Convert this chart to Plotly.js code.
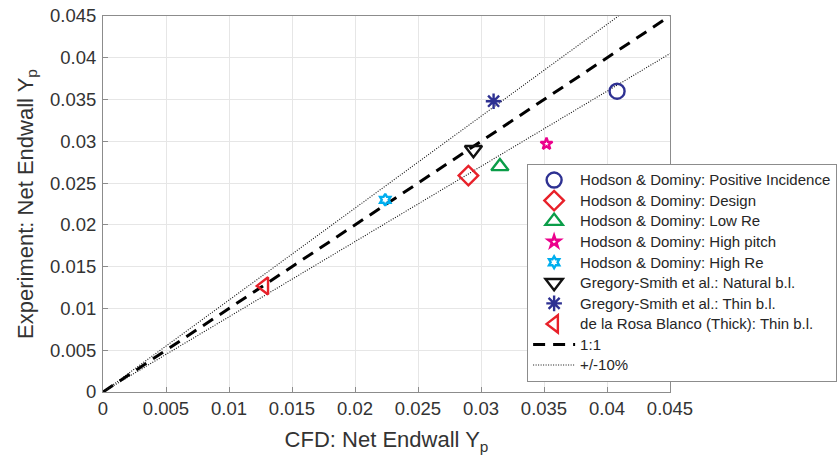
<!DOCTYPE html>
<html><head><meta charset="utf-8">
<script src="https://cdn.plot.ly/plotly-3.0.1.min.js"></script>
<style>html,body{margin:0;padding:0;background:#fff}#chart{width:837px;height:463px}</style>
</head><body><div id="chart"></div>
<script>
const seriesNames = [
  "Hodson & Dominy: Positive Incidence",
  "Hodson & Dominy: Design",
  "Hodson & Dominy: Low Re",
  "Hodson & Dominy: High pitch",
  "Hodson & Dominy: High Re",
  "Gregory-Smith et al.: Natural b.l.",
  "Gregory-Smith et al.: Thin b.l.",
  "de la Rosa Blanco (Thick): Thin b.l."
];
const cfdValues = [0.0408, 0.0290, 0.0315, 0.0352, 0.0224, 0.0294, 0.0310, 0.0128];
const expValues = [0.0360, 0.0259, 0.0270, 0.0297, 0.0230, 0.0290, 0.0348, 0.0127];
const symbols = ["circle-open","diamond-open","triangle-up-open","star-open","hexagram-open","triangle-down-open","asterisk-open","triangle-left-open"];
const colors = ["#2e3192","#e8212a","#0a9d48","#ec008c","#00aeef","#111111","#2e3192","#e8212a"];
const sizes = [15, 15, 15, 9, 9, 15, 13, 15];
const lineNames = ["1:1", "+/-10%"];

const lineX = [0, 0.045];
const upperFactor = 1.1, lowerFactor = 0.9;
const tickVals = [0,0.005,0.01,0.015,0.02,0.025,0.03,0.035,0.04,0.045];
const tickText = ["0","0.005","0.01","0.015","0.02","0.025","0.03","0.035","0.04","0.045"];

const label = s => '<span style="font-size:15px">' + s.replace(/&/g, '&amp;') + '</span>';

const traces = [];
traces.push({
  x: lineX, y: lineX.map(v => v), mode: 'lines', name: label(lineNames[0]), legendrank: 9,
  line: {color: '#000', width: 3, dash: '12px,8px'}
});
const upX = [0, 0.045 / upperFactor];
const loX = [0, 0.045];
traces.push({
  x: upX.concat([null]).concat(loX),
  y: upX.map(v => v * upperFactor).concat([null]).concat(loX.map(v => v * lowerFactor)),
  mode: 'lines', name: label(lineNames[1]), legendrank: 10,
  line: {color: '#111', width: 1.1, dash: '1px,1.5px'}
});
seriesNames.forEach((n, i) => {
  traces.push({
    x: [cfdValues[i]], y: [expValues[i]], mode: 'markers', name: label(n), legendrank: i + 1,
    marker: {symbol: symbols[i], color: colors[i], size: sizes[i], line: {color: colors[i], width: 2.4}}
  });
});

const FONT = 'Liberation Sans, Arial, sans-serif';
const axisCommon = {
  range: [0, 0.045], tickvals: tickVals, ticktext: tickText,
  showgrid: true, gridcolor: '#e6e6e6', gridwidth: 1,
  showline: true, linecolor: '#8c8c8c', linewidth: 1, mirror: true,
  ticks: 'inside', ticklen: 5, tickcolor: '#8c8c8c',
  zeroline: false,
  tickfont: {family: FONT, size: 18.5, color: '#333'}
};
const layout = {
  width: 837, height: 463,
  margin: {l: 103, r: 167, t: 16, b: 71, autoexpand: false},
  paper_bgcolor: '#fff', plot_bgcolor: '#fff',
  xaxis: Object.assign({}, axisCommon, {
    title: {text: 'CFD: Net Endwall Y<sub>p</sub>', standoff: 13,
      font: {family: FONT, size: 22, color: '#333'}}
  }),
  yaxis: Object.assign({}, axisCommon, {
    ticklabelstandoff: 2,
    title: {text: 'Experiment: Net Endwall Y<sub>p</sub>', standoff: 10,
      font: {family: FONT, size: 22, color: '#333'}}
  }),
  showlegend: true,
  legend: {
    x: 0.748, y: 0.607, xanchor: 'left', yanchor: 'top',
    bgcolor: '#fff', bordercolor: '#8c8c8c', borderwidth: 1,
    itemwidth: 42,
    font: {family: FONT, size: 13.5, color: '#262626'},
    traceorder: 'normal'
  }
};
Plotly.newPlot('chart', traces, layout, {displayModeBar: false, staticPlot: true});
</script></body></html>
